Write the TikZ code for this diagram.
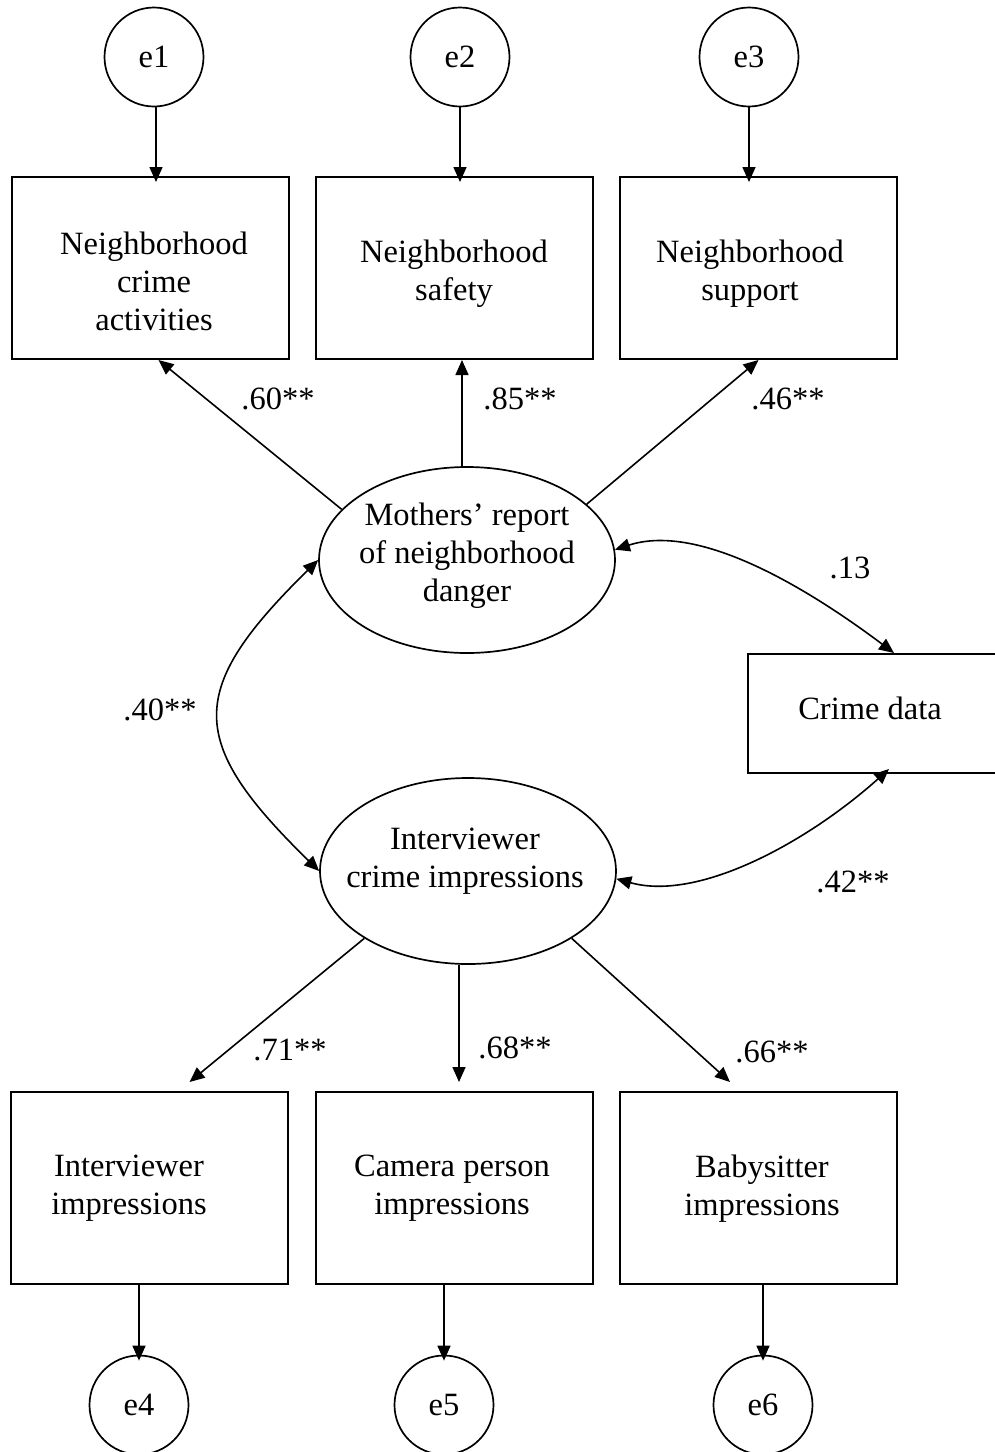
\documentclass[tikz,border=0pt]{standalone}
\usepackage{fontspec}
\setmainfont{Liberation Serif}
\usetikzlibrary{shapes.geometric,arrows.meta,calc}
\begin{document}
\begin{tikzpicture}[x=1pt,y=-1pt,
  font=\fontsize{32.5}{38}\selectfont,
  err/.style={draw,circle,line width=1.7pt,minimum size=99pt,inner sep=0pt},
  obs/.style={draw,rectangle,line width=2pt,minimum width=277pt,minimum height=182pt,inner sep=0pt},
  lat/.style={draw,ellipse,line width=1.7pt,minimum width=296pt,minimum height=186pt,inner sep=0pt},
  txt/.style={align=center,inner sep=0pt},
  lbl/.style={inner sep=0pt},
  arr/.style={line width=1.6pt,-{Triangle[length=15pt,width=13pt]}},
  into/.style={shorten >=-6pt},
  dbl/.style={line width=1.6pt,{Triangle[length=15pt,width=13pt]}-{Triangle[length=15pt,width=13pt]}}]
\useasboundingbox (0,0) rectangle (995,1452);
% error terms top
\node[err] (e1) at (154,57) {\raisebox{-3pt}{e1}};
\node[err] (e2) at (460,57) {\raisebox{-3pt}{e2}};
\node[err] (e3) at (749,57) {\raisebox{-3pt}{e3}};
% top boxes
\node[obs] (b1) at (150.5,268) {};
\node[obs] (b2) at (454.5,268) {};
\node[obs] (b3) at (758.5,268) {};
\node[txt] (t1) at (154,281) {Neighborhood\\crime\\activities};
\node[txt] (t2) at (454,274) {Neighborhood\\safety};
\node[txt] (t3) at (750,274) {Neighborhood\\support};
% latent
\node[lat] (M) at (467,560) {};
\node[txt] (tM) at (467,556) {Mothers’ report\\of neighborhood\\danger};
\node[lat] (I) at (468,871) {};
\node[txt] (tI) at (465,861) {Interviewer\\crime impressions};
% crime data
\node[obs,minimum width=292pt,minimum height=119pt] (C) at (894,713.5) {};
\node[txt] (tC) at (870,708) {Crime data};
% bottom boxes
\node[obs,minimum height=192pt] (b4) at (149.5,1188) {};
\node[obs,minimum height=192pt] (b5) at (454,1188) {};
\node[obs,minimum height=192pt] (b6) at (758,1188) {};
\node[txt] (t4) at (129,1188.5) {Interviewer\\impressions};
\node[txt] (t5) at (452,1188.5) {Camera person\\impressions};
\node[txt] (t6) at (762,1188.5) {Babysitter\\impressions};
% error terms bottom
\node[err] (e4) at (139,1405) {\raisebox{-3pt}{e4}};
\node[err] (e5) at (444,1405) {\raisebox{-3pt}{e5}};
\node[err] (e6) at (763,1405) {\raisebox{-3pt}{e6}};
% arrows top
\draw[arr,into] ($(e1.south)+(2,0)$) -- ($(e1.south |- b1.north)+(2,0)$);
\draw[arr,into] (e2.south) -- (e2.south |- b2.north);
\draw[arr,into] (e3.south) -- (e3.south |- b3.north);
\draw[arr] (M.158) -- ($(b1.south)+(8,0)$);
\draw[arr] ($(M.north)+(-5,0)$) -- ($(b2.south)+(7.5,0)$);
\draw[arr] (M.25) -- (b3.south);
% covariances
\draw[dbl] (M.west) .. controls (186,690) and (186,741) .. (I.west);
\draw[dbl] (M.4) .. controls (700,522) and (810,590) .. (C.north);
\draw[dbl] (I.-3) .. controls (700,902) and (810,840) .. ($(C.south)+(-5,-5)$);
% arrows bottom
\draw[arr] (I.213) -- ($(b4.north)+(40,-9)$);
\draw[arr] ($(I.south)+(-9,0)$) -- ($(b5.north)+(5,-9)$);
\draw[arr] (I.-33) -- ($(b6.north)+(-28,-9)$);
\draw[arr,into] (b4.south -| e4.north) -- (e4.north);
\draw[arr,into] (b5.south -| e5.north) -- (e5.north);
\draw[arr,into] (b6.south -| e6.north) -- (e6.north);
% labels
\node[lbl] (l60) at (278,399) {.60**};
\node[lbl] (l85) at (520,399) {.85**};
\node[lbl] (l46) at (788,399) {.46**};
\node[lbl] (l13) at (850,568) {.13};
\node[lbl] (l40) at (160,710) {.40**};
\node[lbl] (l42) at (853,882) {.42**};
\node[lbl] (l71) at (290,1050) {.71**};
\node[lbl] (l68) at (515,1048) {.68**};
\node[lbl] (l66) at (772,1052) {.66**};
\end{tikzpicture}
\end{document}
